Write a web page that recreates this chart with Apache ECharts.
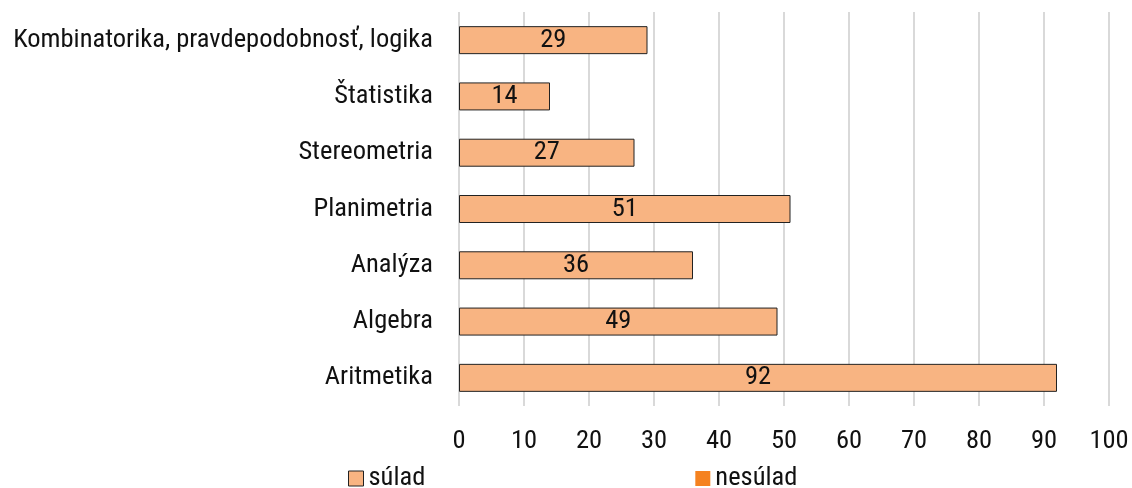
<!DOCTYPE html>
<html><head><meta charset="utf-8">
<script src="https://cdn.jsdelivr.net/npm/echarts@6/dist/echarts.min.js"></script>
<style>html,body{margin:0;padding:0;background:#fff}#c{width:1132px;height:488px}</style>
</head><body><div id="c"></div>
<script>
var categories = ["Kombinatorika, pravdepodobnosť, logika","Štatistika","Stereometria","Planimetria","Analýza","Algebra","Aritmetika"];
var sulad = [29,14,27,51,36,49,92];
var nesulad = [0,0,0,0,0,0,0];
var xTicks = [0,10,20,30,40,50,60,70,80,90,100];
var FONT = '"Roboto Condensed","Liberation Sans Narrow","DejaVu Sans Condensed",Roboto,sans-serif';
var FS = 26.5;
var chart = echarts.init(document.getElementById('c'), null, {renderer:'canvas'});
chart.setOption({
  animation:false,
  textStyle:{fontFamily:FONT},
  grid:{left:459,right:23,top:12,bottom:82,containLabel:false},
  legend:{
    left:348, top:465, padding:0, itemWidth:15, itemHeight:15, itemGap:270, itemTextGap:6, icon:'rect',
    textStyle:{fontFamily:FONT,fontSize:FS,color:'#111'},
    data:[{name:'súlad',itemStyle:{color:'#F8B482',borderColor:'#222',borderWidth:1}},{name:'nesúlad',itemStyle:{color:'#F58220'}}]
  },
  xAxis:{type:'value',min:xTicks[0],max:xTicks[xTicks.length-1],interval:10,
    axisLine:{show:false},axisTick:{show:false},
    splitLine:{show:true,lineStyle:{color:'#d9d9d9',width:2}},
    axisLabel:{fontFamily:FONT,fontSize:FS,color:'#111',margin:22}},
  yAxis:{type:'category',data:categories,inverse:true,
    axisLine:{show:false},axisTick:{show:false},
    axisLabel:{fontFamily:FONT,fontSize:FS,color:'#111',margin:26}},
  series:[
    {name:'súlad',type:'bar',stack:'s',data:sulad,barWidth:28,
      itemStyle:{color:'#F8B482',borderColor:'#222',borderWidth:1},
      label:{show:true,position:'inside',fontFamily:FONT,fontSize:FS,color:'#111'}},
    {name:'nesúlad',type:'bar',stack:'s',data:nesulad,barWidth:28,
      itemStyle:{color:'#F58220',borderWidth:0},label:{show:false}}
  ]
});
</script></body></html>
